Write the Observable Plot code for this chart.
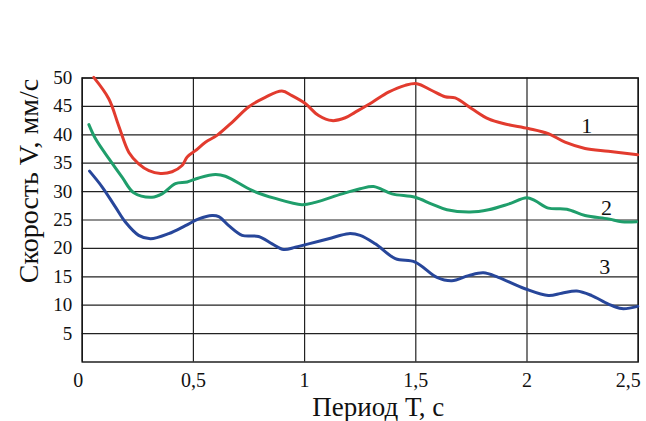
<!DOCTYPE html>
<html><head><meta charset="utf-8">
<script src="https://cdn.jsdelivr.net/npm/d3@7"></script>
<script src="https://cdn.jsdelivr.net/npm/@observablehq/plot@0.6"></script>
<style>
body{margin:0;background:#fff;}
#wrap{position:relative;width:646px;height:421px;}
#tag{position:absolute;left:8px;top:12px;font:bold 17px "Open Sans",sans-serif;color:#111;}
</style></head><body><div id="wrap"><div id="tag">a)</div></div>
<script>
// Curve 1 (red)
const t1 = [0.052,0.12,0.164,0.21,0.254,0.30,0.352,0.404,0.449,0.472,0.509,0.554,0.606,0.674,0.748,0.823,0.898,0.943,1.003,1.063,1.123,1.183,1.228,1.303,1.377,1.452,1.505,1.572,1.632,1.677,1.752,1.827,1.902,2.006,2.096,2.171,2.261,2.366,2.498];
const v1 = [50.1,46.3,41.6,36.9,34.9,33.7,33.2,33.5,34.6,36.1,37.2,38.7,39.9,42.2,44.9,46.6,47.7,46.9,45.5,43.4,42.5,43.0,44.0,45.7,47.5,48.7,49.0,47.8,46.7,46.5,44.6,42.8,41.9,41.1,40.2,38.7,37.6,37.1,36.5];
// Curve 2 (green)
const t2 = [0.03,0.06,0.12,0.18,0.232,0.314,0.359,0.419,0.472,0.524,0.599,0.644,0.764,0.868,0.988,1.048,1.168,1.25,1.31,1.393,1.497,1.572,1.64,1.744,1.827,1.916,1.999,2.036,2.096,2.179,2.261,2.366,2.426,2.493];
const v2 = [41.8,39.3,35.8,32.5,29.8,29.0,29.6,31.4,31.7,32.4,33.0,32.7,30.2,28.8,27.7,28.1,29.6,30.5,30.9,29.6,29.0,27.8,26.8,26.4,26.8,27.8,28.9,28.4,27.1,26.9,25.8,25.2,24.7,24.7];
// Curve 3 (blue)
const t3 = [0.033,0.09,0.149,0.195,0.254,0.307,0.389,0.464,0.524,0.584,0.614,0.659,0.719,0.793,0.854,0.906,0.958,1.018,1.108,1.198,1.25,1.318,1.408,1.497,1.595,1.662,1.737,1.804,1.871,1.991,2.096,2.156,2.224,2.291,2.366,2.426,2.498];
const v3 = [33.6,30.8,27.3,24.6,22.3,21.7,22.6,24.0,25.2,25.8,25.6,24.0,22.3,22.1,20.8,19.8,20.2,20.8,21.7,22.6,22.3,20.8,18.2,17.6,14.9,14.3,15.2,15.7,14.9,12.9,11.7,12.1,12.5,11.7,10.2,9.4,9.8];
// Curve labels
const curveNames = ["1","2","3"];
const labelT = [2.269,2.358,2.35];
const labelV = [41.6,27.2,16.8];
// Ticks
const xTicks = [0,0.5,1,1.5,2,2.5];
const yTicks = [5,10,15,20,25,30,35,40,45,50];
const xTitle = "Период Т, с";
const yTitle = "Скорость V, мм/с";

const colors = ["#e23b2e","#1f9e6b","#27469a"];
const mk = (t,v) => t.map((x,i)=>({t:x, v:v[i]}));
const s1 = mk(t1,v1), s2 = mk(t2,v2), s3 = mk(t3,v3);
const lbls = curveNames.map((n,i)=>({n, t:labelT[i], v:labelV[i]}));
const fmt = d => String(d).replace(".", ",");
const serif = '"Liberation Serif", "DejaVu Serif", serif';
const xo = {tickSize: 0, tickPadding: 11, tickFormat: fmt, fontSize: 20, label: null};

const chart = Plot.plot({
  width: 646, height: 421,
  marginLeft: 81.7, marginRight: 8.3, marginTop: 77.5, marginBottom: 59.5,
  style: {fontFamily: serif, background: "white", color: "#111", overflow: "visible"},
  x: {domain: [0, 2.5]},
  y: {domain: [0, 50]},
  marks: [
    Plot.gridX(xTicks, {stroke: "#222", strokeOpacity: 1, strokeWidth: 1.2}),
    Plot.gridY(yTicks, {stroke: "#222", strokeOpacity: 1, strokeWidth: 1.2}),
    Plot.frame({stroke: "#111", strokeWidth: 1.4}),
    Plot.axisX(xTicks.slice(0, 1), {...xo, dx: -4}),
    Plot.axisX(xTicks.slice(1, -1), xo),
    Plot.axisX(xTicks.slice(-1), {...xo, dx: -10}),
    Plot.axisY(yTicks, {tickSize: 0, tickPadding: 10, fontSize: 19, label: null}),
    Plot.text([xTitle], {frameAnchor: "bottom", dy: 54, dx: 18, fontSize: 27, fill: "#111"}),
    Plot.text([yTitle], {frameAnchor: "left", textAnchor: "middle", rotate: -90, dx: -53, dy: -39, fontSize: 28, fill: "#111"}),
    Plot.line(s1, {x: "t", y: "v", stroke: colors[0], strokeWidth: 3, curve: "catmull-rom"}),
    Plot.line(s2, {x: "t", y: "v", stroke: colors[1], strokeWidth: 3, curve: "catmull-rom"}),
    Plot.line(s3, {x: "t", y: "v", stroke: colors[2], strokeWidth: 3, curve: "catmull-rom"}),
    Plot.text(lbls, {x: "t", y: "v", text: "n", fontSize: 22, fill: "#111"})
  ]
});
document.getElementById("wrap").appendChild(chart);
chart.style.position = "absolute";
chart.style.left = "0"; chart.style.top = "0";
</script>
</body></html>
